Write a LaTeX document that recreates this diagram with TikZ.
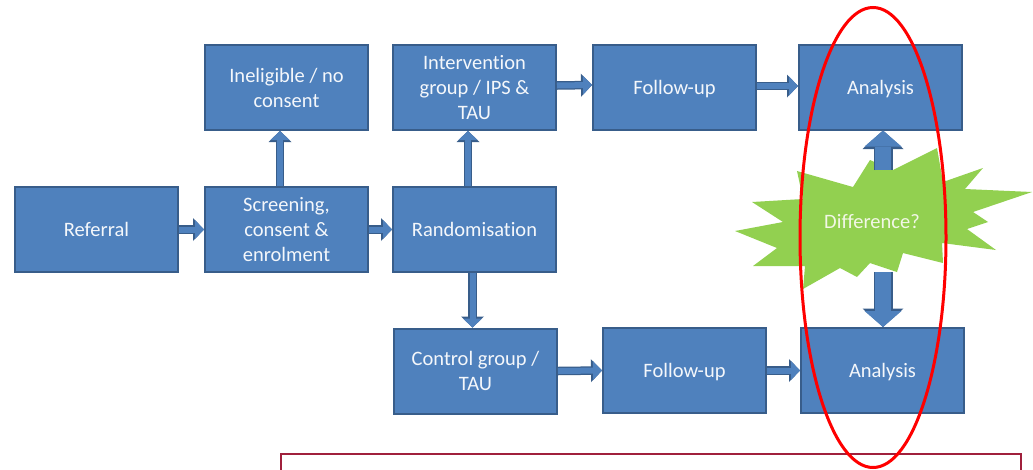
\documentclass[tikz,border=0pt]{standalone}
\usepackage{fontspec}
\setmainfont{Carlito}[Ligatures=NoCommon]
\usetikzlibrary{arrows.meta}
\definecolor{boxfill}{HTML}{4F81BD}
\definecolor{boxline}{HTML}{385D8A}
\definecolor{stargreen}{HTML}{92D050}
\definecolor{notecol}{HTML}{A0203C}
\definecolor{txtcol}{HTML}{F4F7FB}
\definecolor{difftxt}{HTML}{F2F7E6}
\begin{document}
\begin{tikzpicture}[x=1pt,y=-1pt,
  box/.style={draw=boxline, fill=boxfill, line width=2pt, minimum width=163pt, minimum height=85pt,
    text=txtcol, align=center, font=\fontsize{20.5}{25}\selectfont, inner sep=2pt},
  one/.style={text depth=0pt},
  sarrow/.style={draw=boxfill, line width=6pt, -{Triangle[width=19pt,length=9pt,line width=0pt]},
    preaction={draw=boxline, line width=8.5pt, -{Triangle[width=23pt,length=11pt,line width=0pt]}}},
  barrow/.style={draw=boxfill, line width=16.5pt, -{Triangle[width=37pt,length=16pt,line width=0pt]},
    preaction={draw=boxline, line width=19pt, -{Triangle[width=41pt,length=18.5pt,line width=0pt]}}},
  lbl/.style={text=difftxt, font=\fontsize{20.5}{25}\selectfont}
]
\useasboundingbox (0,0) rectangle (1033,469);

% boxes
\node[box,one] (ref)  at (96.5,229.5)  {Referral};
\node[box] (scr)  at (286.5,229.5) {Screening,\\consent \&\\enrolment};
\node[box,one] (rnd)  at (474.5,229.5) {Randomisation};
\node[box] (inel) at (286.5,87.5)  {Ineligible / no\\consent};
\node[box] (int)  at (474.5,87.5)  {Intervention\\group / IPS \&\\TAU};
\node[box,one] (fu1)  at (674.5,87)  {Follow-up};
\node[box,one] (an1)  at (880.5,87)  {Analysis};
\node[box] (ctl)  at (475.5,371)   {Control group /\\TAU};
\node[box,one] (fu2)  at (684.5,370.5)   {Follow-up};
\node[box,one] (an2)  at (882.5,370.5)   {Analysis};

% small arrows
\draw[sarrow] (ref.east) -- (scr.west);
\draw[sarrow] (scr.east) -- (rnd.west);
\draw[sarrow] ([xshift=-6.5pt]scr.north) -- ([xshift=-6.5pt]inel.south);
\draw[sarrow] ([xshift=-6.5pt]rnd.north) -- ([xshift=-6.5pt]int.south);
\draw[sarrow] ([xshift=-2pt]rnd.south) -- ([xshift=-3pt]ctl.north);
\draw[sarrow] ([yshift=2pt]int.east) -- ([yshift=2pt]fu1.west);
\draw[sarrow] ([yshift=1pt]fu1.east) -- ([yshift=1pt]an1.west);
\draw[sarrow] (ctl.east) -- (fu2.west);
\draw[sarrow] (fu2.east) -- (an2.west);

% star
\fill[stargreen] (797,171) -- (853,187) -- (870,160) -- (893,170) -- (937,148) -- (943,182)
  -- (983,168) -- (965,189) -- (1032,192) -- (973,212) -- (988,222) -- (967,229) -- (996,250)
  -- (942,243) -- (943,263) -- (903,253) -- (897,272) -- (870,263) -- (857,277) -- (840,268)
  -- (803,289) -- (805,266) -- (753,266) -- (777,248) -- (735,231) -- (783,222) -- (752,202)
  -- (803,199) -- cycle;
\node[lbl] (diff) at (872,222) {Difference?};

% big arrows
\coordinate (st) at (883,170);
\coordinate (sb) at (883,272);
\draw[barrow] (st) -- (st |- an1.south);
\draw[barrow] (sb) -- (sb |- an2.north);

% note frame
\draw[notecol, line width=1.5pt] (281,480) -- (281,454) -- (1021,454) -- (1021,480);

% red ellipse
\draw[red, line width=3pt] (873,237.5) ellipse [x radius=73pt, y radius=230pt];
\end{tikzpicture}
\end{document}
